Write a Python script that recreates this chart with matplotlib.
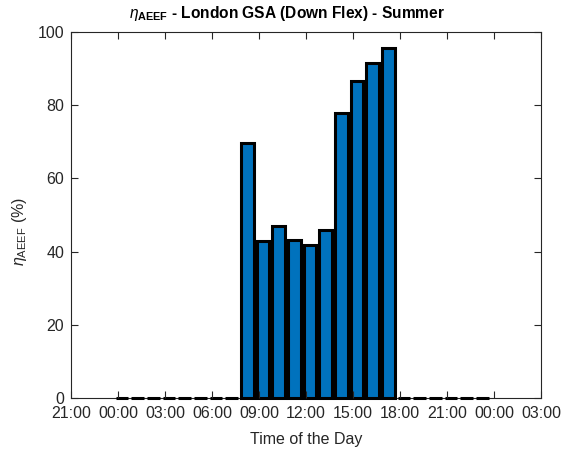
import matplotlib
matplotlib.use("Agg")
import matplotlib.pyplot as plt
import numpy as np

# Data
hours = list(range(24))
bar_offset = 0.25  # bars sit at hh:15
values = [0, 0, 0, 0, 0, 0, 0, 0,
          69.6, 42.9, 46.9, 43.1, 41.9, 46.0, 78.0, 86.6, 91.5, 95.6,
          0, 0, 0, 0, 0, 0]
tick_pos = [-3, 0, 3, 6, 9, 12, 15, 18, 21, 24, 27]
tick_labels = ["21:00", "00:00", "03:00", "06:00", "09:00", "12:00",
               "15:00", "18:00", "21:00", "00:00", "03:00"]

plt.rcParams['font.family'] = ['Liberation Sans', 'DejaVu Sans']
plt.rcParams['mathtext.fontset'] = 'custom'
plt.rcParams['mathtext.rm'] = 'Liberation Sans'
plt.rcParams['mathtext.it'] = 'Liberation Sans:italic'
plt.rcParams['mathtext.bf'] = 'Liberation Sans:bold'

grey = '#262626'
fig = plt.figure(figsize=(5.64, 4.57), dpi=100)
ax = fig.add_axes([71/564, 59/457, 470/564, 366/457])

x = np.array(hours) + bar_offset
bars = ax.bar(x, values, width=0.8, color='#0072BD', edgecolor='black',
              linewidth=2.2)
for b in bars:
    b.set_clip_on(False)

ax.set_xlim(-3, 27)
ax.set_ylim(0, 100)
ax.set_xticks(tick_pos)
ax.set_xticklabels(tick_labels)
ax.set_yticks([0, 20, 40, 60, 80, 100])

for s in ax.spines.values():
    s.set_color(grey)
    s.set_linewidth(0.8)
    s.set_zorder(0.5)
ax.tick_params(direction='in', length=5, width=0.8, colors=grey,
               labelsize=11.5, top=True, right=True)
ax.tick_params(axis='x', pad=6)
ax.tick_params(axis='y', pad=5)

ax.set_xlabel('Time of the Day', fontsize=11.5, color=grey, labelpad=8)
ax.set_ylabel(r'$\eta_{\mathrm{AEEF}}$ (%)', fontsize=11.5, color=grey,
              labelpad=8)
ax.yaxis.set_label_coords(-0.09, 0.455)
ax.set_title(r'$\eta_{\mathbf{AEEF}}$ - London GSA (Down Flex) - Summer',
             fontsize=11.2, fontweight='bold', color='black', pad=10,
             x=(287.5 - 71) / 470)

fig.savefig('out.png', dpi=100)
